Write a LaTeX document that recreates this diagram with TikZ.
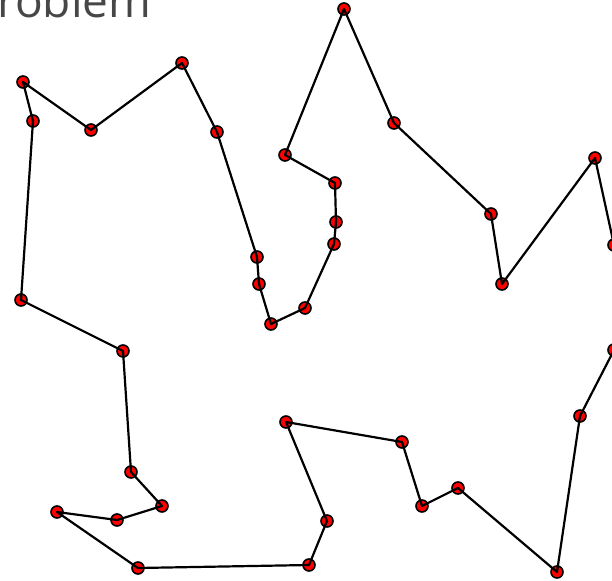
\documentclass[tikz,border=0pt]{standalone}
\usepackage{fontspec}
\setmainfont{Open Sans}
\begin{document}
\begin{tikzpicture}[x=1pt,y=-1pt,
  city/.style={circle,fill=red,draw=black,line width=1.6pt,minimum size=12pt,inner sep=0pt},
  tour/.style={line width=2.2pt,black,line join=round}]
\useasboundingbox (0,0) rectangle (612,580);
\definecolor{titlegray}{HTML}{474747}
\node[anchor=base west,inner sep=0pt,text=titlegray,font=\fontsize{46}{50}\selectfont] (title) at (-3,18) {roblem};
\foreach \n/\x/\y in {A/23/82,B/33/121,C/91/130,D/182/63,E/217/132,F/344/9,G/394/123,H/285/155,
  I/491/214,J/502/284,K/595/158,L/614/245,M/614/350,N/580/416,O/21/300,P/123/351,Q/131/472,
  R/162/506,S/117/520,T/57/512,U/138/568,V/335/183,W/336/222,X/334/244,Y/305/308,Z/271/324,
  a/259/284,b/257/257,c/286/422,d/402/442,e/422/506,f/458/488,g/557/572,h/327/521,i/309/565}
  \node[city] (\n) at (\x,\y) {};
\draw[tour] (A.center) -- (B.center) -- (O.center) -- (P.center) -- (Q.center) -- (R.center)
  -- (S.center) -- (T.center) -- (U.center) -- (i.center) -- (h.center) -- (c.center)
  -- (d.center) -- (e.center) -- (f.center) -- (g.center) -- (N.center) -- (M.center)
  -- (L.center) -- (K.center) -- (J.center) -- (I.center) -- (G.center) -- (F.center)
  -- (H.center) -- (V.center) -- (W.center) -- (X.center) -- (Y.center) -- (Z.center)
  -- (a.center) -- (b.center) -- (E.center) -- (D.center) -- (C.center) -- cycle;
\end{tikzpicture}
\end{document}
